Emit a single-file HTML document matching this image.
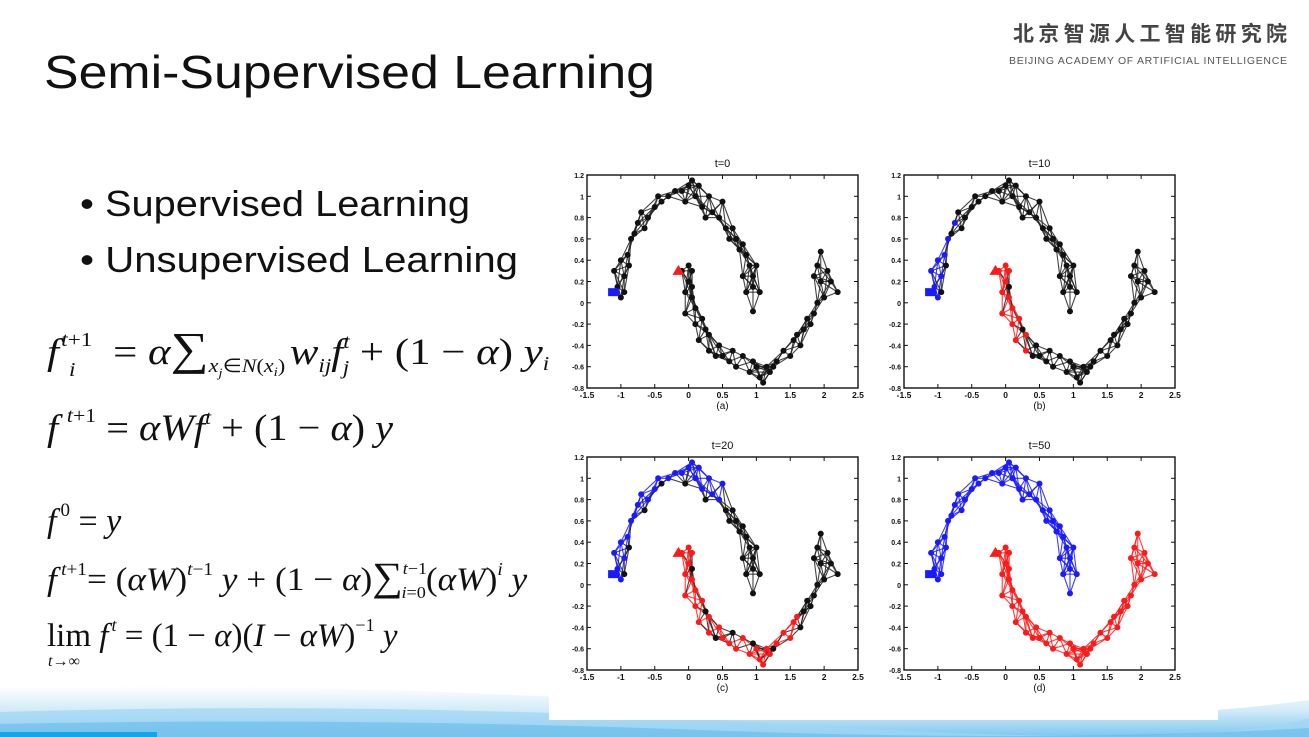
<!DOCTYPE html>
<html><head><meta charset="utf-8">
<style>
html,body{margin:0;padding:0;background:#fff;}
svg{display:block;}
.m{font-family:"Liberation Serif",serif;font-style:italic;}
.r{font-family:"Liberation Serif",serif;}
</style></head>
<body>
<svg id="slide" width="1309" height="737" viewBox="0 0 1309 737" xmlns="http://www.w3.org/2000/svg">
<defs>
<linearGradient id="wave" x1="0" y1="0" x2="0" y2="1">
<stop offset="0" stop-color="#ffffff"/><stop offset="0.5" stop-color="#cfeaf8"/><stop offset="1" stop-color="#7cc6ee"/>
</linearGradient>
</defs>
<rect width="1309" height="737" fill="#fff"/>
<g>
<path d="M0 688 Q300 680 700 705 T1309 700 L1309 737 L0 737 Z" fill="url(#wave)"/>
<path d="M0 712 Q400 700 800 725 T1309 718 L1309 737 L0 737Z" fill="#9fd6f3" opacity="0.7"/>
<path d="M0 724 Q350 717 700 730 T1309 728 L1309 737 L0 737Z" fill="#5ab5e8" opacity="0.5"/>
<rect x="0" y="732" width="157" height="5" fill="#12a7ea"/>
</g>
<text x="44" y="88" font-family="Liberation Sans, sans-serif" font-size="46" fill="#111" textLength="611" lengthAdjust="spacingAndGlyphs">Semi-Supervised Learning</text>
<g>
<text x="1013" y="41" font-family="Liberation Sans, Noto Sans CJK SC, sans-serif" font-weight="bold" font-size="21" fill="#444" textLength="274">北京智源人工智能研究院</text>
<text x="1009" y="64" font-family="Liberation Sans, sans-serif" font-size="10.5" fill="#555" textLength="278">BEIJING ACADEMY OF ARTIFICIAL INTELLIGENCE</text>
</g>
<g font-family="Liberation Sans, sans-serif" font-size="36" fill="#111">
<text x="80" y="216" textLength="390" lengthAdjust="spacingAndGlyphs">• Supervised Learning</text>
<text x="80" y="272" textLength="438" lengthAdjust="spacingAndGlyphs">• Unsupervised Learning</text>
</g>
<g fill="#111">
<g transform="translate(47,0) scale(1.16,1) translate(-47,0)">
<text y="364" font-size="37"><tspan class="m" x="47">f</tspan><tspan class="m" font-size="20" dx="2" dy="-18">t</tspan><tspan class="r" font-size="20">+1</tspan><tspan class="m" font-size="20" x="66" dy="30">i</tspan><tspan class="r" x="104" dy="-12">= </tspan><tspan class="m">α</tspan><tspan class="r" font-size="46">∑</tspan><tspan class="m" font-size="19" dy="8">x</tspan><tspan class="m" font-size="13" dy="5">j</tspan><tspan class="r" font-size="19" dy="-5">∈</tspan><tspan class="m" font-size="19">N</tspan><tspan class="r" font-size="19">(</tspan><tspan class="m" font-size="19">x</tspan><tspan class="m" font-size="13" dy="4">i</tspan><tspan class="r" font-size="19" dy="-4">)</tspan><tspan class="m" dy="-8" dx="4">w</tspan><tspan class="m" font-size="20" dy="8">ij</tspan><tspan class="m" dy="-8">f</tspan><tspan class="m" font-size="20" dy="-16">t</tspan><tspan class="m" font-size="20" dx="-6" dy="26">j</tspan><tspan class="r" dy="-10"> + (1 − </tspan><tspan class="m">α</tspan><tspan class="r">) </tspan><tspan class="m">y</tspan><tspan class="m" font-size="20" dy="6">i</tspan></text>
</g>
<g transform="translate(47,0) scale(1.09,1) translate(-47,0)">
<text y="440" font-size="37"><tspan class="m" x="47">f</tspan><tspan class="m" font-size="20" dx="8" dy="-18">t</tspan><tspan class="r" font-size="20">+1</tspan><tspan class="r" dy="18"> = </tspan><tspan class="m">αWf</tspan><tspan class="m" font-size="20" dy="-16">t</tspan><tspan class="r" dy="16"> + (1 − </tspan><tspan class="m">α</tspan><tspan class="r">) </tspan><tspan class="m">y</tspan></text>
</g>
<text y="532" font-size="34"><tspan class="m" x="47">f</tspan><tspan class="r" font-size="19" dx="4" dy="-16">0</tspan><tspan class="r" dy="16"> = </tspan><tspan class="m">y</tspan></text>
<g transform="translate(47,0) scale(1.07,1) translate(-47,0)">
<text y="590" font-size="33"><tspan class="m" x="47">f</tspan><tspan class="m" font-size="18" dx="4" dy="-15">t</tspan><tspan class="r" font-size="18">+1</tspan><tspan class="r" dy="15">= (</tspan><tspan class="m">αW</tspan><tspan class="r">)</tspan><tspan class="m" font-size="18" dy="-15">t</tspan><tspan class="r" font-size="18">−1</tspan><tspan class="m" dy="15"> y</tspan><tspan class="r"> + (1 − </tspan><tspan class="m">α</tspan><tspan class="r">)</tspan><tspan class="r" font-size="40">∑</tspan><tspan class="m" font-size="17" dy="-16">t</tspan><tspan class="r" font-size="17">−1</tspan><tspan class="m" font-size="17" dx="-24" dy="24">i</tspan><tspan class="r" font-size="17">=0</tspan><tspan class="r" dy="-8">(</tspan><tspan class="m">αW</tspan><tspan class="r">)</tspan><tspan class="m" font-size="18" dy="-15">i</tspan><tspan class="m" dy="15"> y</tspan></text>
</g>
<text y="646" font-size="33"><tspan class="r" x="47">lim</tspan><tspan class="m"> f</tspan><tspan class="m" font-size="18" dx="3" dy="-15">t</tspan><tspan class="r" dy="15"> = (1 − </tspan><tspan class="m">α</tspan><tspan class="r">)(</tspan><tspan class="m">I</tspan><tspan class="r"> − </tspan><tspan class="m">αW</tspan><tspan class="r">)</tspan><tspan class="r" font-size="18" dy="-15">−1</tspan><tspan class="m" dy="15"> y</tspan><tspan class="m" font-size="16" x="48" dy="20">t</tspan><tspan class="r" font-size="16">→∞</tspan></text>
</g>
<rect x="549" y="148" width="669" height="572" fill="#fff"/>
<g id="plots"></g>
</svg>
<script>
const upperX=[-1,-1.05,-1.1,-0.95,-0.9,-1,-0.85,-0.75,-0.7,-0.8,-0.6,-0.5,-0.45,-0.3,-0.2,-0.1,0,0.05,0.1,0.15,0.2,0.3,0.35,0.45,0.5,0.55,0.65,0.7,0.8,0.85,0.9,0.95,1.0,0.95,0.85,1.05,0.95,0.8,-0.95,-0.88,-0.65,-0.4,-0.05,0.25,0.6,0.75];
const upperY=[0.05,0.15,0.3,0.25,0.45,0.4,0.6,0.75,0.85,0.65,0.8,0.9,1.0,1.0,1.05,1.05,1.1,1.15,1.0,1.1,0.9,1.0,0.85,0.8,0.95,0.7,0.7,0.6,0.55,0.45,0.35,0.25,0.35,0.15,0.1,0.1,-0.08,0.25,0.1,0.35,0.7,0.95,0.95,0.8,0.6,0.5];
const lowerX=[-0.1,0,0.05,0,-0.05,0.05,-0.05,0.1,0.1,0.2,0.15,0.3,0.3,0.45,0.5,0.6,0.7,0.8,0.9,1.0,1.05,1.1,1.15,1.2,1.3,1.4,1.5,1.55,1.6,1.7,1.8,1.85,1.9,2.0,1.95,2.05,1.9,2.1,1.95,2.2,1.85,0.05,0.25,0.4,0.65,0.95,1.25,1.65,1.75];
const lowerY=[0.3,0.35,0.3,0.2,0.1,0.05,-0.1,-0.05,-0.2,-0.15,-0.35,-0.3,-0.45,-0.4,-0.5,-0.55,-0.6,-0.5,-0.65,-0.6,-0.7,-0.75,-0.6,-0.65,-0.55,-0.45,-0.5,-0.35,-0.3,-0.25,-0.2,-0.1,0,0.05,0.2,0.3,0.35,0.2,0.48,0.1,0.25,0.15,-0.25,-0.5,-0.45,-0.55,-0.6,-0.4,-0.15];
const panelTitles=["t=0","t=10","t=20","t=50"];
const panelLetters=["(a)","(b)","(c)","(d)"];
const blueCounts=[0,8,25,46];
const redCounts=[0,13,29,49];
const xTicks=[-1.5,-1,-0.5,0,0.5,1,1.5,2,2.5];
const yTicks=[1.2,1,0.8,0.6,0.4,0.2,0,-0.2,-0.4,-0.6,-0.8];
const boxes=[[587,175],[904,175],[587,457],[904,457]];
const W=271,H=213;
const NS="http://www.w3.org/2000/svg";
const root=document.getElementById('plots');
function mk(t,a,p){const e=document.createElementNS(NS,t);for(const k in a)e.setAttribute(k,a[k]);p.appendChild(e);return e;}
boxes.forEach((b,pi)=>{
 const g=mk('g',{},root);
 
 
 const sx=v=>b[0]+(v+1.5)/4*W, sy=v=>b[1]+(1.2-v)/2*H;
 const t=mk('text',{x:b[0]+W/2,y:b[1]-8,'text-anchor':'middle','font-family':'Liberation Sans,sans-serif','font-size':11,fill:'#111'},g);t.textContent=panelTitles[pi];
 
 
 mk('rect',{x:b[0],y:b[1],width:W,height:H,fill:'#fff',stroke:'#111','stroke-width':1.4},g);
 xTicks.forEach(v=>{const x=sx(v);mk('line',{x1:x,x2:x,y1:b[1]+H,y2:b[1]+H-4,stroke:'#111'},g);mk('line',{x1:x,x2:x,y1:b[1],y2:b[1]+4,stroke:'#111'},g);
  const l=mk('text',{x:x,y:b[1]+H+10,'text-anchor':'middle','font-family':'Liberation Sans,sans-serif','font-size':8.5,'font-weight':'bold',fill:'#111'},g);l.textContent=v;
  
  });
 yTicks.forEach(v=>{const y=sy(v);mk('line',{x1:b[0],x2:b[0]+4,y1:y,y2:y,stroke:'#111'},g);mk('line',{x1:b[0]+W,x2:b[0]+W-4,y1:y,y2:y,stroke:'#111'},g);
  const l=mk('text',{x:b[0]-3,y:y+3,'text-anchor':'end','font-family':'Liberation Sans,sans-serif','font-size':7,'font-weight':'bold',fill:'#111'},g);l.textContent=v;
  
  });
 const lt=mk('text',{x:b[0]+W/2,y:b[1]+H+21,'text-anchor':'middle','font-family':'Liberation Sans,sans-serif','font-size':10,fill:'#111'},g);lt.textContent=panelLetters[pi];
 
 
 const moons=[[upperX,upperY,blueCounts[pi],'#1a1aff'],[lowerX,lowerY,redCounts[pi],'#ff1a1a']];
 moons.forEach(([X,Y,n,c])=>{
  for(let i=0;i<X.length;i++)for(let j=i+1;j<X.length;j++){
   const d=Math.hypot(X[i]-X[j],Y[i]-Y[j]);
   if(d<0.3){const col=(i<n&&j<n)?c:'#222';
    const e=mk('line',{x1:sx(X[i]),y1:sy(Y[i]),x2:sx(X[j]),y2:sy(Y[j]),stroke:col,'stroke-width':1.1,opacity:0.85},g);
    
    }
  }
  for(let i=0;i<X.length;i++){
   const p=mk('circle',{cx:sx(X[i]),cy:sy(Y[i]),r:3,fill:i<n?c:'#111'},g);
   
   
  }
 });
 const sq=mk('rect',{x:sx(-1.1)-6,y:sy(0.1)-4,width:11,height:8,fill:'#1a1aff'},g);
 
 
 const tx=sx(-0.15),ty=sy(0.3);
 const tr=mk('polygon',{points:`${tx-6},${ty+4} ${tx+6},${ty+4} ${tx},${ty-6}`,fill:'#ff1a1a'},g);
 
 
});
</script>
</body></html>
